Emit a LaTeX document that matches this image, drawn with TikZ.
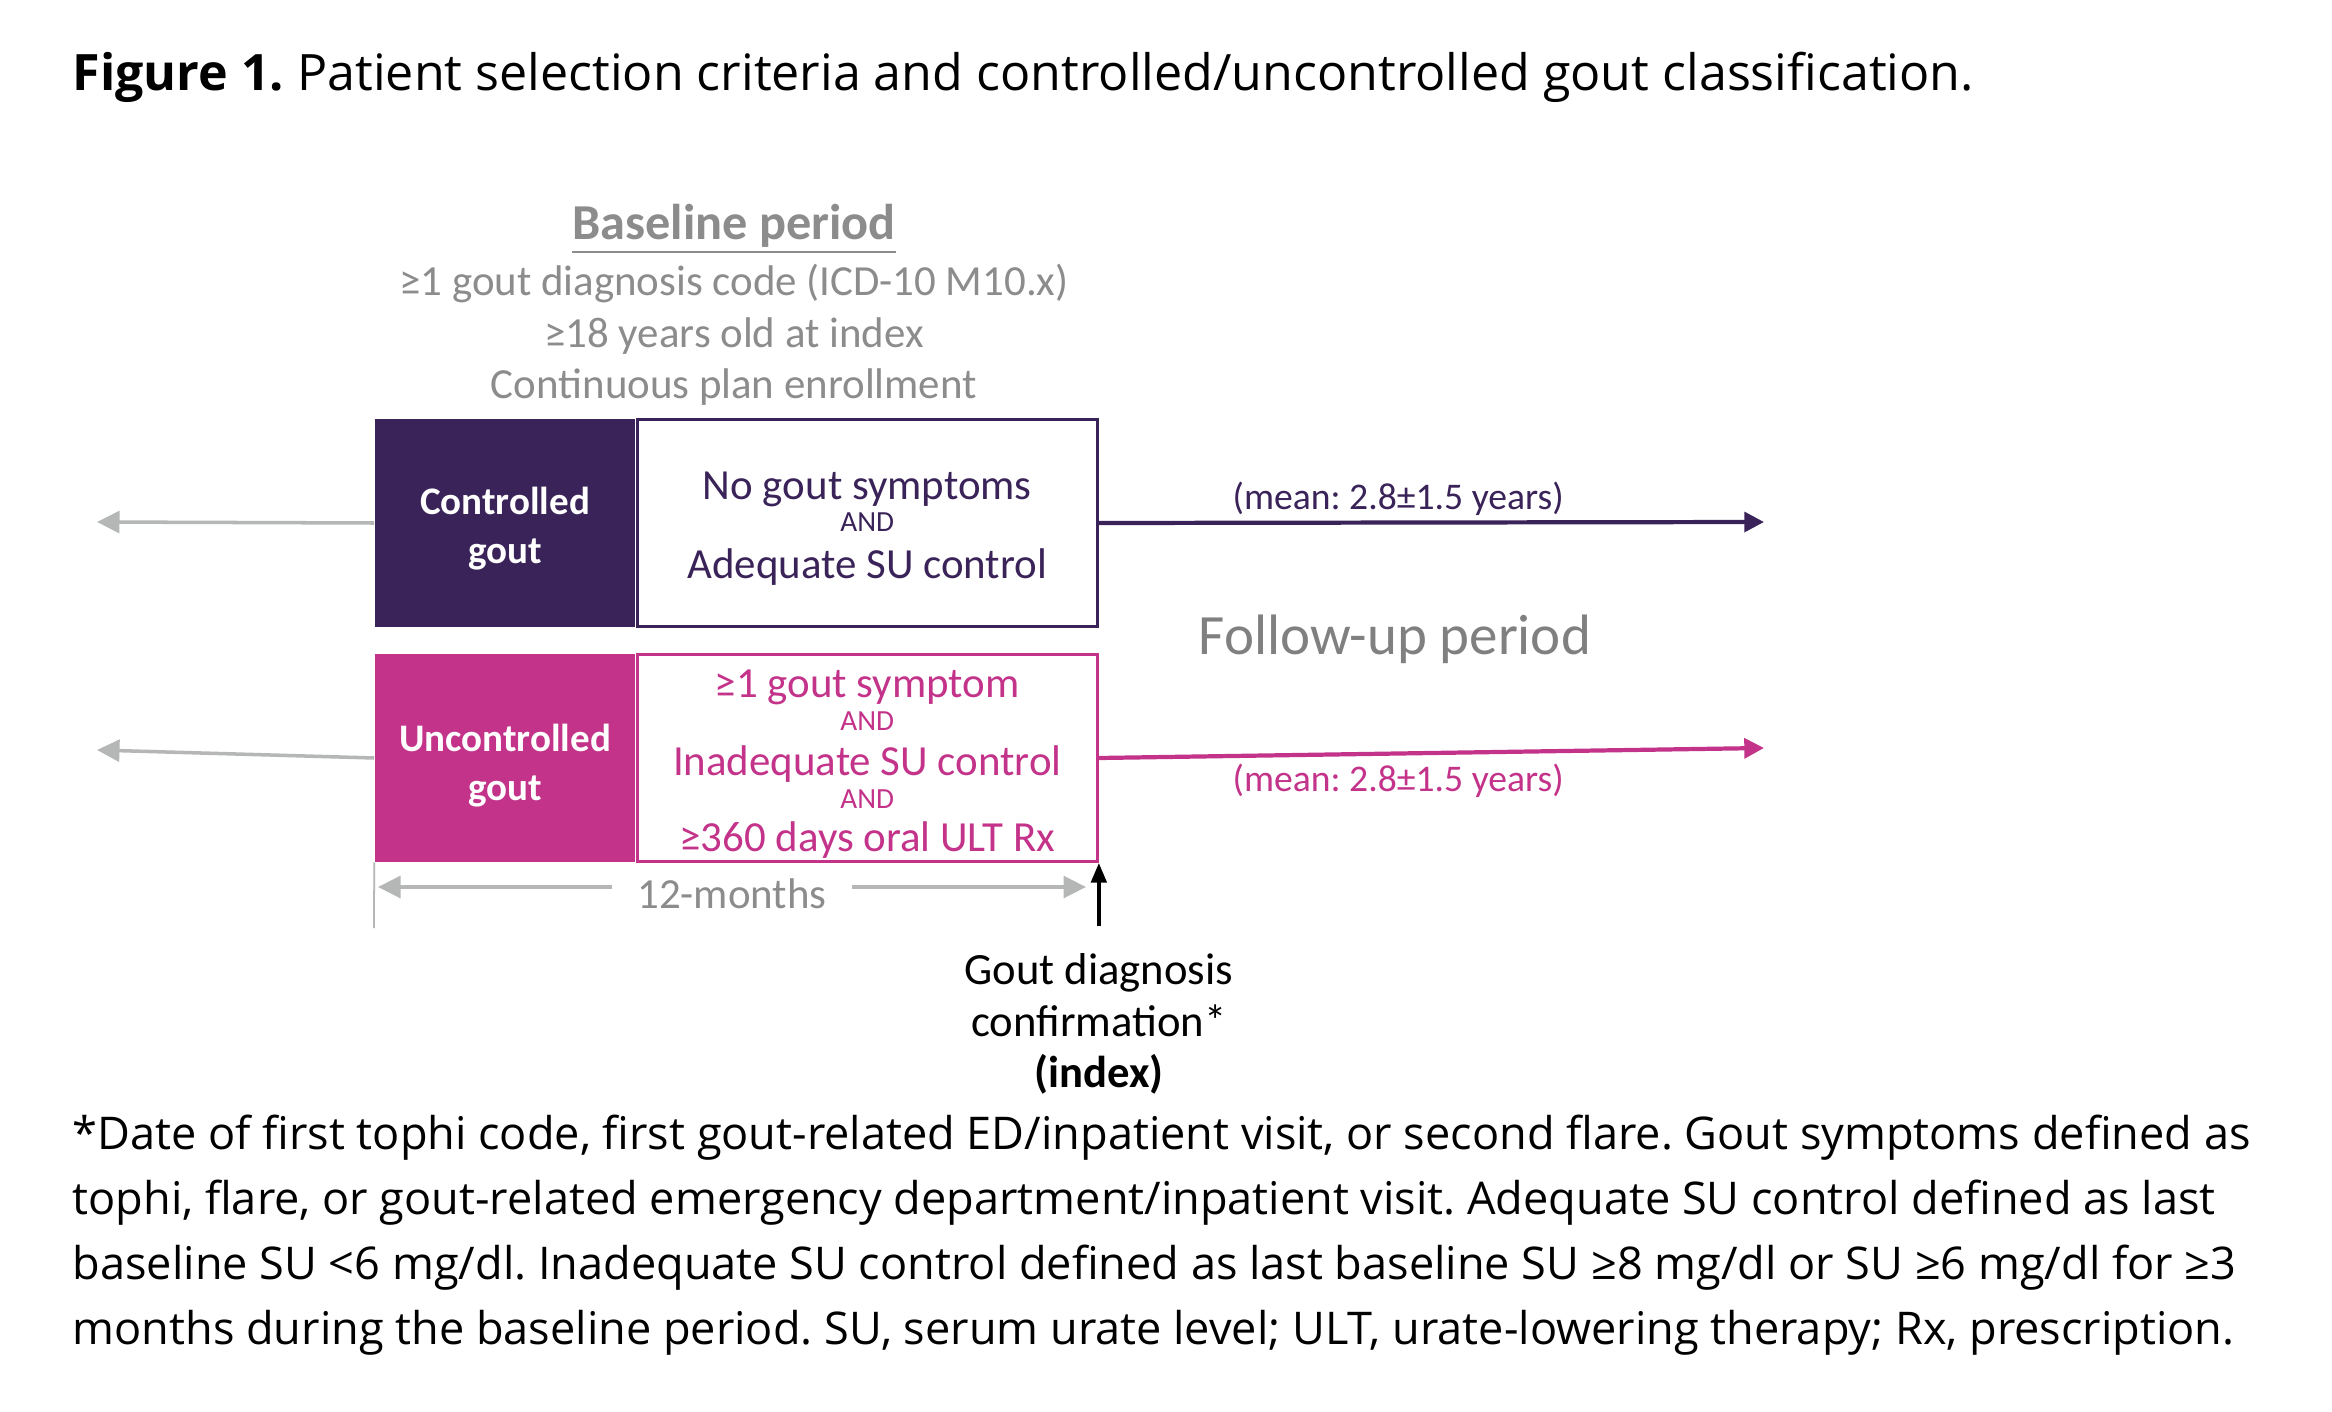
\documentclass[tikz,border=0pt]{standalone}
\usepackage{fontspec}
\setmainfont{Open Sans}
\newfontfamily\figfont{Carlito}
\usetikzlibrary{positioning,arrows.meta}
\definecolor{ctrlpurple}{HTML}{3A2358}
\definecolor{unctrlpink}{HTML}{C3338A}
\definecolor{txtgray}{HTML}{8C8C8C}
\definecolor{arrowgray}{HTML}{B5B7B7}
\newcommand{\andword}{{\fontsize{8.3}{10}\selectfont AND}}
\frenchspacing

\begin{document}
\begin{tikzpicture}[x=0.01cm,y=-0.01cm,
  every node/.style={inner sep=0pt},
  fig/.style={font=\figfont\fontsize{12.2}{14.7}\selectfont,align=center},
  grouplbl/.style={fig,font=\figfont\bfseries\fontsize{11.1}{13.9}\selectfont,text=white,
    minimum width=2.6cm,minimum height=2.07cm},
  critbox/.style={fig,line width=0.8pt,minimum width=4.6cm,minimum height=2.07cm},
  meanlbl/.style={font=\figfont\fontsize{10.7}{12.8}\selectfont},
  grayarrow/.style={draw=arrowgray,line width=1pt,-{Triangle[length=6.4pt,width=6.2pt]}},
  timearrow/.style={line width=1.2pt,-{Triangle[length=5.6pt,width=5.6pt]}}]
\fill[white] (0,0) rectangle (2332,1412);
\path[use as bounding box] (0,0) rectangle (2332,1412);

% caption
\node[anchor=west,font=\fontsize{14.27}{17}\selectfont] (title) at (72,77)
  {\textbf{Figure 1.} Patient selection criteria and controlled/uncontrolled gout classification.};

% baseline period
\node[fig,text=txtgray,font=\figfont\bfseries\fontsize{14.3}{17}\selectfont] (basehdr) at (734,229) {\underline{Baseline period}};
\node[fig,text=txtgray] (basecrit) at (734,335)
  {≥1 gout diagnosis code (ICD-10 M10.x)\\≥18 years old at index\\Continuous plan enrollment};

% groups
\node[grouplbl,fill=ctrlpurple] (ctrl) at (505,523) {\mbox{}\\[-2.8pt]Controlled\\gout};
\node[critbox,draw=ctrlpurple,text=ctrlpurple,right=0pt of ctrl] (ctrlcrit)
  {\mbox{}\\[-3.8pt]No gout symptoms\\[-5.5pt]\andword\\[-1.4pt]Adequate SU control};
\node[grouplbl,fill=unctrlpink] (unctrl) at (505,758) {\mbox{}\\[-1.6pt]Uncontrolled\\gout};
\node[critbox,draw=unctrlpink,text=unctrlpink,right=0pt of unctrl] (unctrlcrit)
  {\mbox{}\\[-3.5pt]≥1 gout symptom\\[-5.3pt]\andword\\[-2pt]Inadequate SU control\\[-5.3pt]\andword\\[-2.5pt]≥360 days oral ULT Rx};

% time lines
\coordinate (ctrlpast) at (97,522);
\coordinate (unctrlpast) at (97,750);
\coordinate (ctrlend) at (1764,522);
\coordinate (unctrlend) at (1764,748);
\draw[grayarrow] (ctrl.west) -- (ctrlpast);
\draw[grayarrow] (unctrl.west) -- (unctrlpast);
\draw[timearrow,ctrlpurple] (ctrlcrit.east) -- (ctrlend)
  node[meanlbl,text=ctrlpurple,pos=0.45,above=1.5pt] (ctrlmean) {(mean: 2.8±1.5 years)};
\draw[timearrow,unctrlpink] (unctrlcrit.east) -- (unctrlend)
  node[meanlbl,text=unctrlpink,pos=0.45,below=2.5pt] (unctrlmean) {(mean: 2.8±1.5 years)};
\node[fig,text=gray,font=\figfont\fontsize{16.2}{19}\selectfont] (followup) at (1395,639) {Follow-up period};

% 12 months
\coordinate (dimL) at (378,887);
\coordinate (dimR) at (1086,887);
\coordinate (tickbot) at (374,928);
\draw[arrowgray,line width=0.5pt] (unctrl.south west) -- (tickbot);
\draw[grayarrow,{Triangle[length=6.4pt,width=6.2pt]}-{Triangle[length=6.4pt,width=6.2pt]}] (dimL) -- (dimR)
  node[fig,midway,fill=white,text=txtgray,minimum width=2.4cm,minimum height=0.6cm,yshift=-2pt] (months) {12-months};

% index
\coordinate (idxfoot) at ([yshift=-18pt]unctrlcrit.south east);
\draw[line width=1pt,-{Triangle[length=5.6pt,width=4.4pt]}] (idxfoot) -- (unctrlcrit.south east);
\node[fig,font=\figfont\fontsize{12.7}{14.7}\selectfont,below=7.5pt of idxfoot] (index)
  {Gout diagnosis\\confirmation*\\\textbf{(index)}};

% footnote
\node[anchor=north west,align=left,font=\fontsize{12.82}{18.55}\selectfont] (note) at (72,1114)
  {*Date of first tophi code, first gout-related ED/inpatient visit, or second flare. Gout symptoms defined as\\
   tophi, flare, or gout-related emergency department/inpatient visit. Adequate SU control defined as last\\
   baseline SU <6 mg/dl. Inadequate SU control defined as last baseline SU ≥8 mg/dl or SU ≥6 mg/dl for ≥3\\
   months during the baseline period. SU, serum urate level; ULT, urate-lowering therapy; Rx, prescription.};
\end{tikzpicture}
\end{document}
